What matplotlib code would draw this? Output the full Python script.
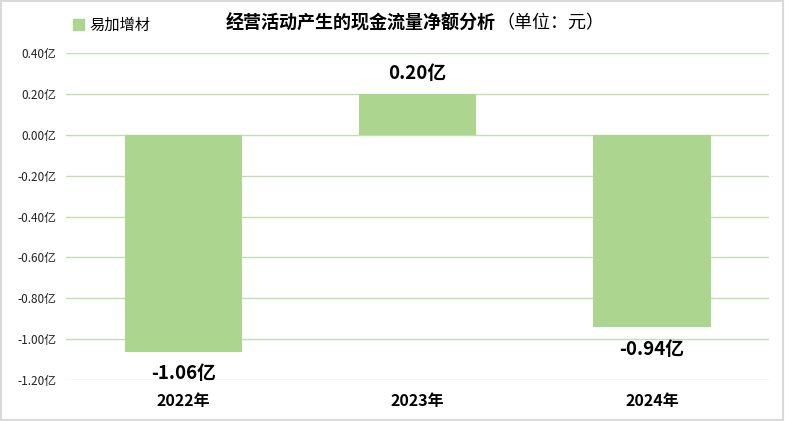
import matplotlib
matplotlib.use("Agg")
import matplotlib.pyplot as plt
from matplotlib.patches import Rectangle

plt.rcParams['font.family'] = ['Noto Sans CJK SC', 'DejaVu Sans']

categories = ["2022年", "2023年", "2024年"]
values = [-1.06, 0.20, -0.94]
series_name = "易加增材"
yticks = [0.40, 0.20, 0.00, -0.20, -0.40, -0.60, -0.80, -1.00, -1.20]

bar_color = "#acd68f"
grid_color = "#c0e0b0"

fig = plt.figure(figsize=(7.85, 4.21), dpi=100)
ax = fig.add_axes([0.084, 0.097, 0.896, 0.777])

x = range(len(categories))
ax.bar(x, values, width=0.5, color=bar_color, zorder=2)

ax.set_ylim(-1.2, 0.4)
ax.set_xlim(-0.5, len(categories) - 0.5)
ax.set_yticks(yticks)
ax.set_yticklabels([f"{v:.2f}亿" for v in yticks], fontsize=8.5, color="#222222")
ax.set_xticks(list(x))
ax.set_xticklabels(categories, fontsize=11.5, fontweight="bold")
ax.tick_params(axis="both", length=0)
ax.tick_params(axis="x", pad=9)
ax.tick_params(axis="y", pad=7)
ax.grid(axis="y", color=grid_color, linewidth=1, zorder=0)
for s in ax.spines.values():
    s.set_visible(False)

for xi, v in zip(x, values):
    if v >= 0:
        ax.annotate(f"{v:.2f}亿", (xi, v), xytext=(0, 8), textcoords="offset points",
                    ha="center", va="bottom", fontsize=13.5, fontweight="bold")
    else:
        ax.annotate(f"{v:.2f}亿", (xi, v), xytext=(0, -9), textcoords="offset points",
                    ha="center", va="top", fontsize=13.5, fontweight="bold")

# title: bold main part with regular unit note
fig.text(0.632, 0.945, "经营活动产生的现金流量净额分析", ha="right", va="center",
         fontsize=13, fontweight="bold")
fig.text(0.632, 0.945, "（单位：元）", ha="left", va="center", fontsize=13)

# legend
handle = Rectangle((0, 0), 1, 1, color=bar_color)
fig.legend([handle], [series_name], loc="center left", bbox_to_anchor=(0.085, 0.94),
           frameon=False, fontsize=11, handlelength=0.7, handleheight=0.7,
           handletextpad=0.4, borderaxespad=0)

# outer border
fig.add_artist(Rectangle((0.001, 0.002), 0.997, 0.995, transform=fig.transFigure,
                         fill=False, edgecolor="#d9d9d9", linewidth=1.5))

fig.savefig("out.png", dpi=100)
